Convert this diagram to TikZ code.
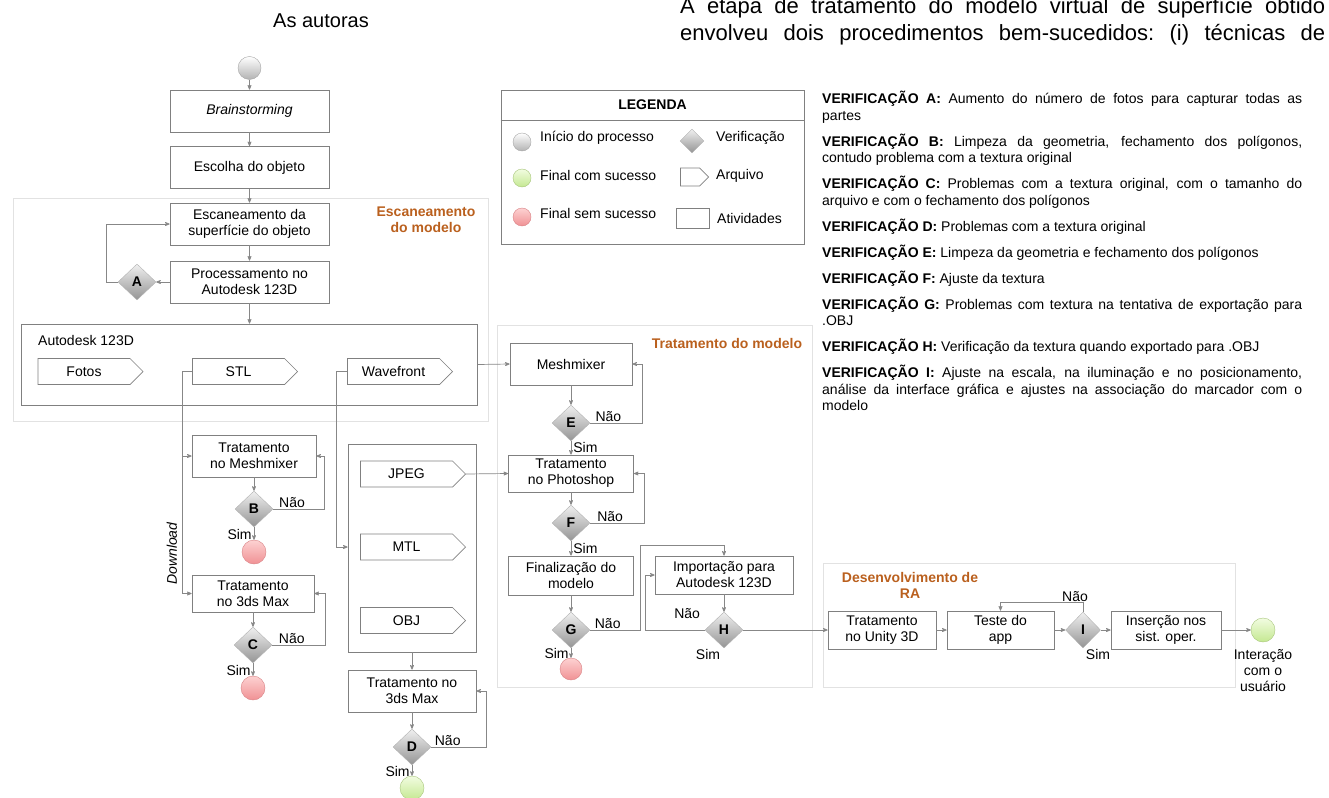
\documentclass[tikz,border=0pt]{standalone}
\usepackage{fontspec}
\setmainfont{Liberation Sans}
\usepackage{xcolor}
\usepackage{tikz}
\usetikzlibrary{arrows}
\usetikzlibrary{shapes.geometric}
\usetikzlibrary{shapes.symbols}

\definecolor{stagecol}{RGB}{186,96,30}
\definecolor{linecol}{RGB}{135,135,135}
\definecolor{regioncol}{RGB}{226,226,226}
\definecolor{failtop}{RGB}{253,210,210}
\definecolor{failbot}{RGB}{240,145,148}
\definecolor{oktop}{RGB}{242,252,225}
\definecolor{okbot}{RGB}{196,232,145}

\tikzset{
  box/.style={draw=black!50, fill=white, line width=0.7pt, align=center,
    inner sep=2pt, minimum height=42pt},
  chk/.style={diamond, draw=black!30, top color=black!6, bottom color=black!42,
    minimum width=38pt, minimum height=36pt, inner sep=0pt, font=\bfseries},
  file/.style={signal, signal to=east, signal pointer angle=90, draw=black!50,
    fill=white, line width=0.7pt, minimum width=105pt, minimum height=26pt},
  startpt/.style={circle, draw=black!35, top color=white, bottom color=black!30,
    minimum size=22pt, inner sep=0pt},
  endok/.style={circle, draw=okbot!85!black, top color=oktop, bottom color=okbot,
    minimum size=24pt, inner sep=0pt},
  endfail/.style={circle, draw=failbot!90!black, top color=failtop,
    bottom color=failbot, minimum size=24pt, inner sep=0pt},
  panel/.style={draw=black!50, line width=0.7pt},
  region/.style={draw=regioncol, line width=0.8pt},
  stage/.style={text=stagecol, font=\bfseries, align=center},
  conn/.style={draw=linecol, line width=0.7pt},
  txt/.style={inner sep=2pt},
}

\begin{document}
\fontsize{14}{16}\selectfont
\begin{tikzpicture}[x=1pt, y=-1pt, >=stealth']
  \useasboundingbox (0, 0) rectangle (1329, 797);

  \node[anchor=base, font=\fontsize{20}{24}\selectfont] (autoras) at (321, 28) {As autoras};
  \node[anchor=base west, inner sep=0pt, font=\fontsize{22}{26}\selectfont\frenchspacing] (text1) at (680, 14)
    {\makebox[645pt][s]{A etapa de tratamento do modelo virtual de superfície obtido}};
  \node[anchor=base west, inner sep=0pt, font=\fontsize{22}{26}\selectfont\frenchspacing] (text2) at (680, 41)
    {\makebox[645pt][s]{envolveu dois procedimentos bem-sucedidos: (i) técnicas de}};

  \draw[region] (13, 198) rectangle (488, 421);
  \draw[region] (497, 325) rectangle (812, 687);
  \draw[region] (823, 563) rectangle (1235, 687);
  \node[stage] (stscan) at (426, 220) {Escaneamento\\do modelo};
  \node[stage] (sttrat) at (727, 343) {Tratamento do modelo};
  \node[stage] (stra) at (910, 585) {Desenvolvimento de\\RA};

  \node[startpt, minimum size=23pt] (start) at (249.5, 68) {};
  \node[box, minimum width=159pt, font=\itshape] (brain) at (249.5, 111) {Brainstorming};
  \node[box, minimum width=159pt] (choose) at (249.5, 167.5) {Escolha do objeto};
  \node[box, minimum width=159pt] (scan) at (249.5, 224) {Escaneamento da\\superfície do objeto};
  \node[box, minimum width=159pt] (proc) at (249.5, 282) {Processamento no\\Autodesk 123D};
  \node[chk] (dA) at (137, 282) {A};

  \node[panel, minimum width=456pt, minimum height=81pt] (ad123) at (249.5, 364.5) {};
  \node[txt, anchor=west] (adname) at (36, 340) {Autodesk 123D};
  \node[file] (fotos) at (84, 371.5) {Fotos};
  \node[file] (stl) at (238.5, 371.5) {STL};
  \node[file] (wave) at (393.5, 371.5) {Wavefront};

  \node[box, minimum width=124pt] (tmesh) at (254, 456) {Tratamento\\no Meshmixer};
  \node[chk] (dB) at (254, 509) {B};
  \node[endfail] (failB) at (254, 552) {};
  \node[box, minimum width=122pt, minimum height=37pt] (tmax) at (253, 593.5) {Tratamento\\no 3ds Max};
  \node[chk] (dC) at (253, 645) {C};
  \node[endfail] (failC) at (253, 688) {};

  \node[panel, minimum width=128pt, minimum height=208pt] (files) at (412, 548) {};
  \node[file] (jpeg) at (406.5, 474) {JPEG};
  \node[file] (mtl) at (406.5, 547) {MTL};
  \node[file] (obj) at (406.5, 620.5) {OBJ};
  \node[box, minimum width=128pt] (tmax2) at (412, 691) {Tratamento no\\3ds Max};
  \node[chk] (dD) at (412, 747) {D};
  \node[endok] (okD) at (412, 788) {};

  \node[box, minimum width=122pt] (mesh) at (571, 364) {Meshmixer};
  \node[chk] (dE) at (571, 423) {E};
  \node[box, minimum width=125pt, minimum height=37pt] (photo) at (571, 473.5) {Tratamento\\no Photoshop};
  \node[chk] (dF) at (571, 523) {F};
  \node[box, minimum width=125pt, minimum height=39pt] (final) at (571, 575.5) {Finalização do\\modelo};
  \node[chk] (dG) at (571, 630) {G};
  \node[endfail, minimum size=22pt] (failG) at (571, 669) {};
  \node[box, minimum width=138pt, minimum height=38pt] (import) at (724, 575) {Importação para\\Autodesk 123D};
  \node[chk, label={[xshift=-16pt, inner sep=1pt]below:Sim}] (dH) at (724, 630) {H};

  \node[box, minimum width=108pt, minimum height=38pt] (unity) at (882, 630) {Tratamento\\no Unity 3D};
  \node[box, minimum width=107pt, minimum height=38pt] (test) at (1000.5, 630) {Teste do\\app};
  \node[chk, minimum width=35pt, label={[xshift=15pt, inner sep=1pt]below:Sim}] (dI) at (1083, 630) {I};
  \node[box, minimum width=110pt, minimum height=38pt] (insert) at (1166, 630) {Inserção nos\\sist. oper.};
  \node[endok] (okRA) at (1263, 630) {};
  \node[align=center] (user) at (1263, 671) {Interação\\com o\\usuário};

  \node[panel, minimum width=303pt, minimum height=154pt] (legend) at (652.5, 167) {};
  \node[font=\bfseries, minimum height=30pt] (legtitle) at (652.5, 105) {LEGENDA};
  \draw[panel] (legtitle.south -| legend.west) -- (legtitle.south -| legend.east);
  \node[startpt, minimum size=18pt] (lgstart) at (522, 142) {};
  \node[endok, minimum size=18pt] (lgok) at (522, 178) {};
  \node[endfail, minimum size=18pt] (lgfail) at (522, 217) {};
  \node[txt, anchor=west] (lgstarttxt) at (538, 138) {Início do processo};
  \node[txt, anchor=west] (lgoktxt) at (538, 175) {Final com sucesso};
  \node[txt, anchor=west] (lgfailtxt) at (538, 213) {Final sem sucesso};
  \node[chk, minimum width=24pt, minimum height=24pt] (lgchk) at (692, 141) {};
  \node[file, minimum width=28pt, minimum height=18pt] (lgfile) at (690, 177) {};
  \node[box, minimum width=33pt, minimum height=20pt] (lgbox) at (692.5, 218) {};
  \node[txt, anchor=west] (lgchktxt) at (714, 138) {Verificação};
  \node[txt, anchor=west] (lgfiletxt) at (714, 176) {Arquivo};
  \node[txt, anchor=west] (lgboxtxt) at (715, 218) {Atividades};

  \node[anchor=north west, text width=480pt, align=justify, inner sep=0pt] (verif) at (822, 91) {%
    \fontsize{14}{16.5}\selectfont\setlength{\parskip}{9.5pt}\tolerance=9999\hyphenpenalty=10000
    \textbf{VERIFICAÇÃO A:} Aumento do número de fotos para capturar todas as\linebreak partes\par
    \textbf{VERIFICAÇÃO B:} Limpeza da geometria, fechamento dos polígonos,\linebreak contudo problema com a textura original\par
    \textbf{VERIFICAÇÃO C:} Problemas com a textura original, com o tamanho do\linebreak arquivo e com o fechamento dos polígonos\par
    \textbf{VERIFICAÇÃO D:} Problemas com a textura original\par
    \textbf{VERIFICAÇÃO E:} Limpeza da geometria e fechamento dos polígonos\par
    \textbf{VERIFICAÇÃO F:} Ajuste da textura\par
    \textbf{VERIFICAÇÃO G:} Problemas com textura na tentativa de exportação para\linebreak .OBJ\par
    \textbf{VERIFICAÇÃO H:} Verificação da textura quando exportado para .OBJ\par
    \textbf{VERIFICAÇÃO I:} Ajuste na escala, na iluminação e no posicionamento,\linebreak análise da interface gráfica e ajustes na associação do marcador com o\linebreak modelo\par
  };

  \draw[conn, ->] (start) -- (brain);
  \draw[conn, ->] (brain) -- (choose);
  \draw[conn, ->] (choose) -- (scan);
  \draw[conn, ->] (scan) -- (proc);
  \draw[conn, ->] (proc) -- (ad123);
  \draw[conn, ->] (proc) -- (dA);
  \draw[conn, ->] (dA.west) -- ++(-11, 0) |- (scan.west);
  \draw[conn, ->] (ad123.east) -- (mesh.west);

  \draw[conn, ->] (stl.west) -- ++(-10, 0) |- (tmesh.west);
  \draw[conn, ->] (stl.west) -- ++(-10, 0) |- node[pos=0.41, rotate=90, anchor=south, font=\itshape] {Download} (tmax.west);
  \draw[conn, ->] (wave.west) -- ++(-11, 0) |- (mtl -| files.west);

  \draw[conn, ->] (tmesh) -- (dB);
  \draw[conn, ->] (dB.east) -- ++(51, 0) node[pos=0.37, above, inner sep=1pt] {Não} |- (tmesh.east);
  \draw[conn, ->] (dB) -- node[pos=0.55, left, inner sep=2pt] {Sim} (failB);
  \draw[conn, ->] (tmax) -- (dC);
  \draw[conn, ->] (dC.east) -- ++(53, 0) node[pos=0.37, above, inner sep=1pt] {Não} |- (tmax.east);
  \draw[conn, ->] (dC) -- node[pos=0.55, left, inner sep=2pt] {Sim} (failC);

  \draw[conn, ->] (files) -- (tmax2);
  \draw[conn, ->] (tmax2) -- (dD);
  \draw[conn, ->] (dD.east) -- ++(55, 0) node[pos=0.3, above, inner sep=1pt] {Não} |- (tmax2.east);
  \draw[conn, ->] (dD) -- node[pos=0.55, left, inner sep=2pt] {Sim} (okD);

  \draw[conn, ->] (mesh) -- (dE);
  \draw[conn, ->] (dE.east) -- ++(52, 0) node[pos=0.35, above, inner sep=1pt] {Não} |- (mesh.east);
  \draw[conn, ->] (dE) -- node[right, inner sep=2pt] {Sim} (photo);
  \draw[conn, ->] (jpeg.east) -- (photo.west);
  \draw[conn, ->] (photo) -- (dF);
  \draw[conn, ->] (dF.east) -- ++(54, 0) node[pos=0.37, above, inner sep=1pt] {Não} |- (photo.east);
  \draw[conn, ->] (dF) -- node[right, inner sep=2pt] {Sim} (final);
  \draw[conn, ->] (final) -- (dG);
  \draw[conn, ->] (dG) -- node[left, inner sep=2pt] {Sim} (failG);
  \draw[conn, ->] (dG.east) -- ++(50, 0) node[pos=0.35, above, inner sep=1pt] {Não} |- ([yshift=10pt]import.north) -- (import.north);
  \draw[conn, ->] (import) -- (dH);
  \draw[conn, ->] (dH.west) -- ++(-59, 0) node[pos=0.3, above=6pt] {Não} |- (import.west);

  \draw[conn, ->] (dH) -- (unity);
  \draw[conn, ->] (unity) -- (test);
  \draw[conn, ->] (test) -- (dI);
  \draw[conn, ->] (dI) -- (insert);
  \draw[conn, ->] (insert) -- (okRA);
  \draw[conn, ->] (dI.north) -- ++(0, -9) node[above, xshift=-8pt, inner sep=1pt] {Não} -| (test.north);
\end{tikzpicture}
\end{document}
